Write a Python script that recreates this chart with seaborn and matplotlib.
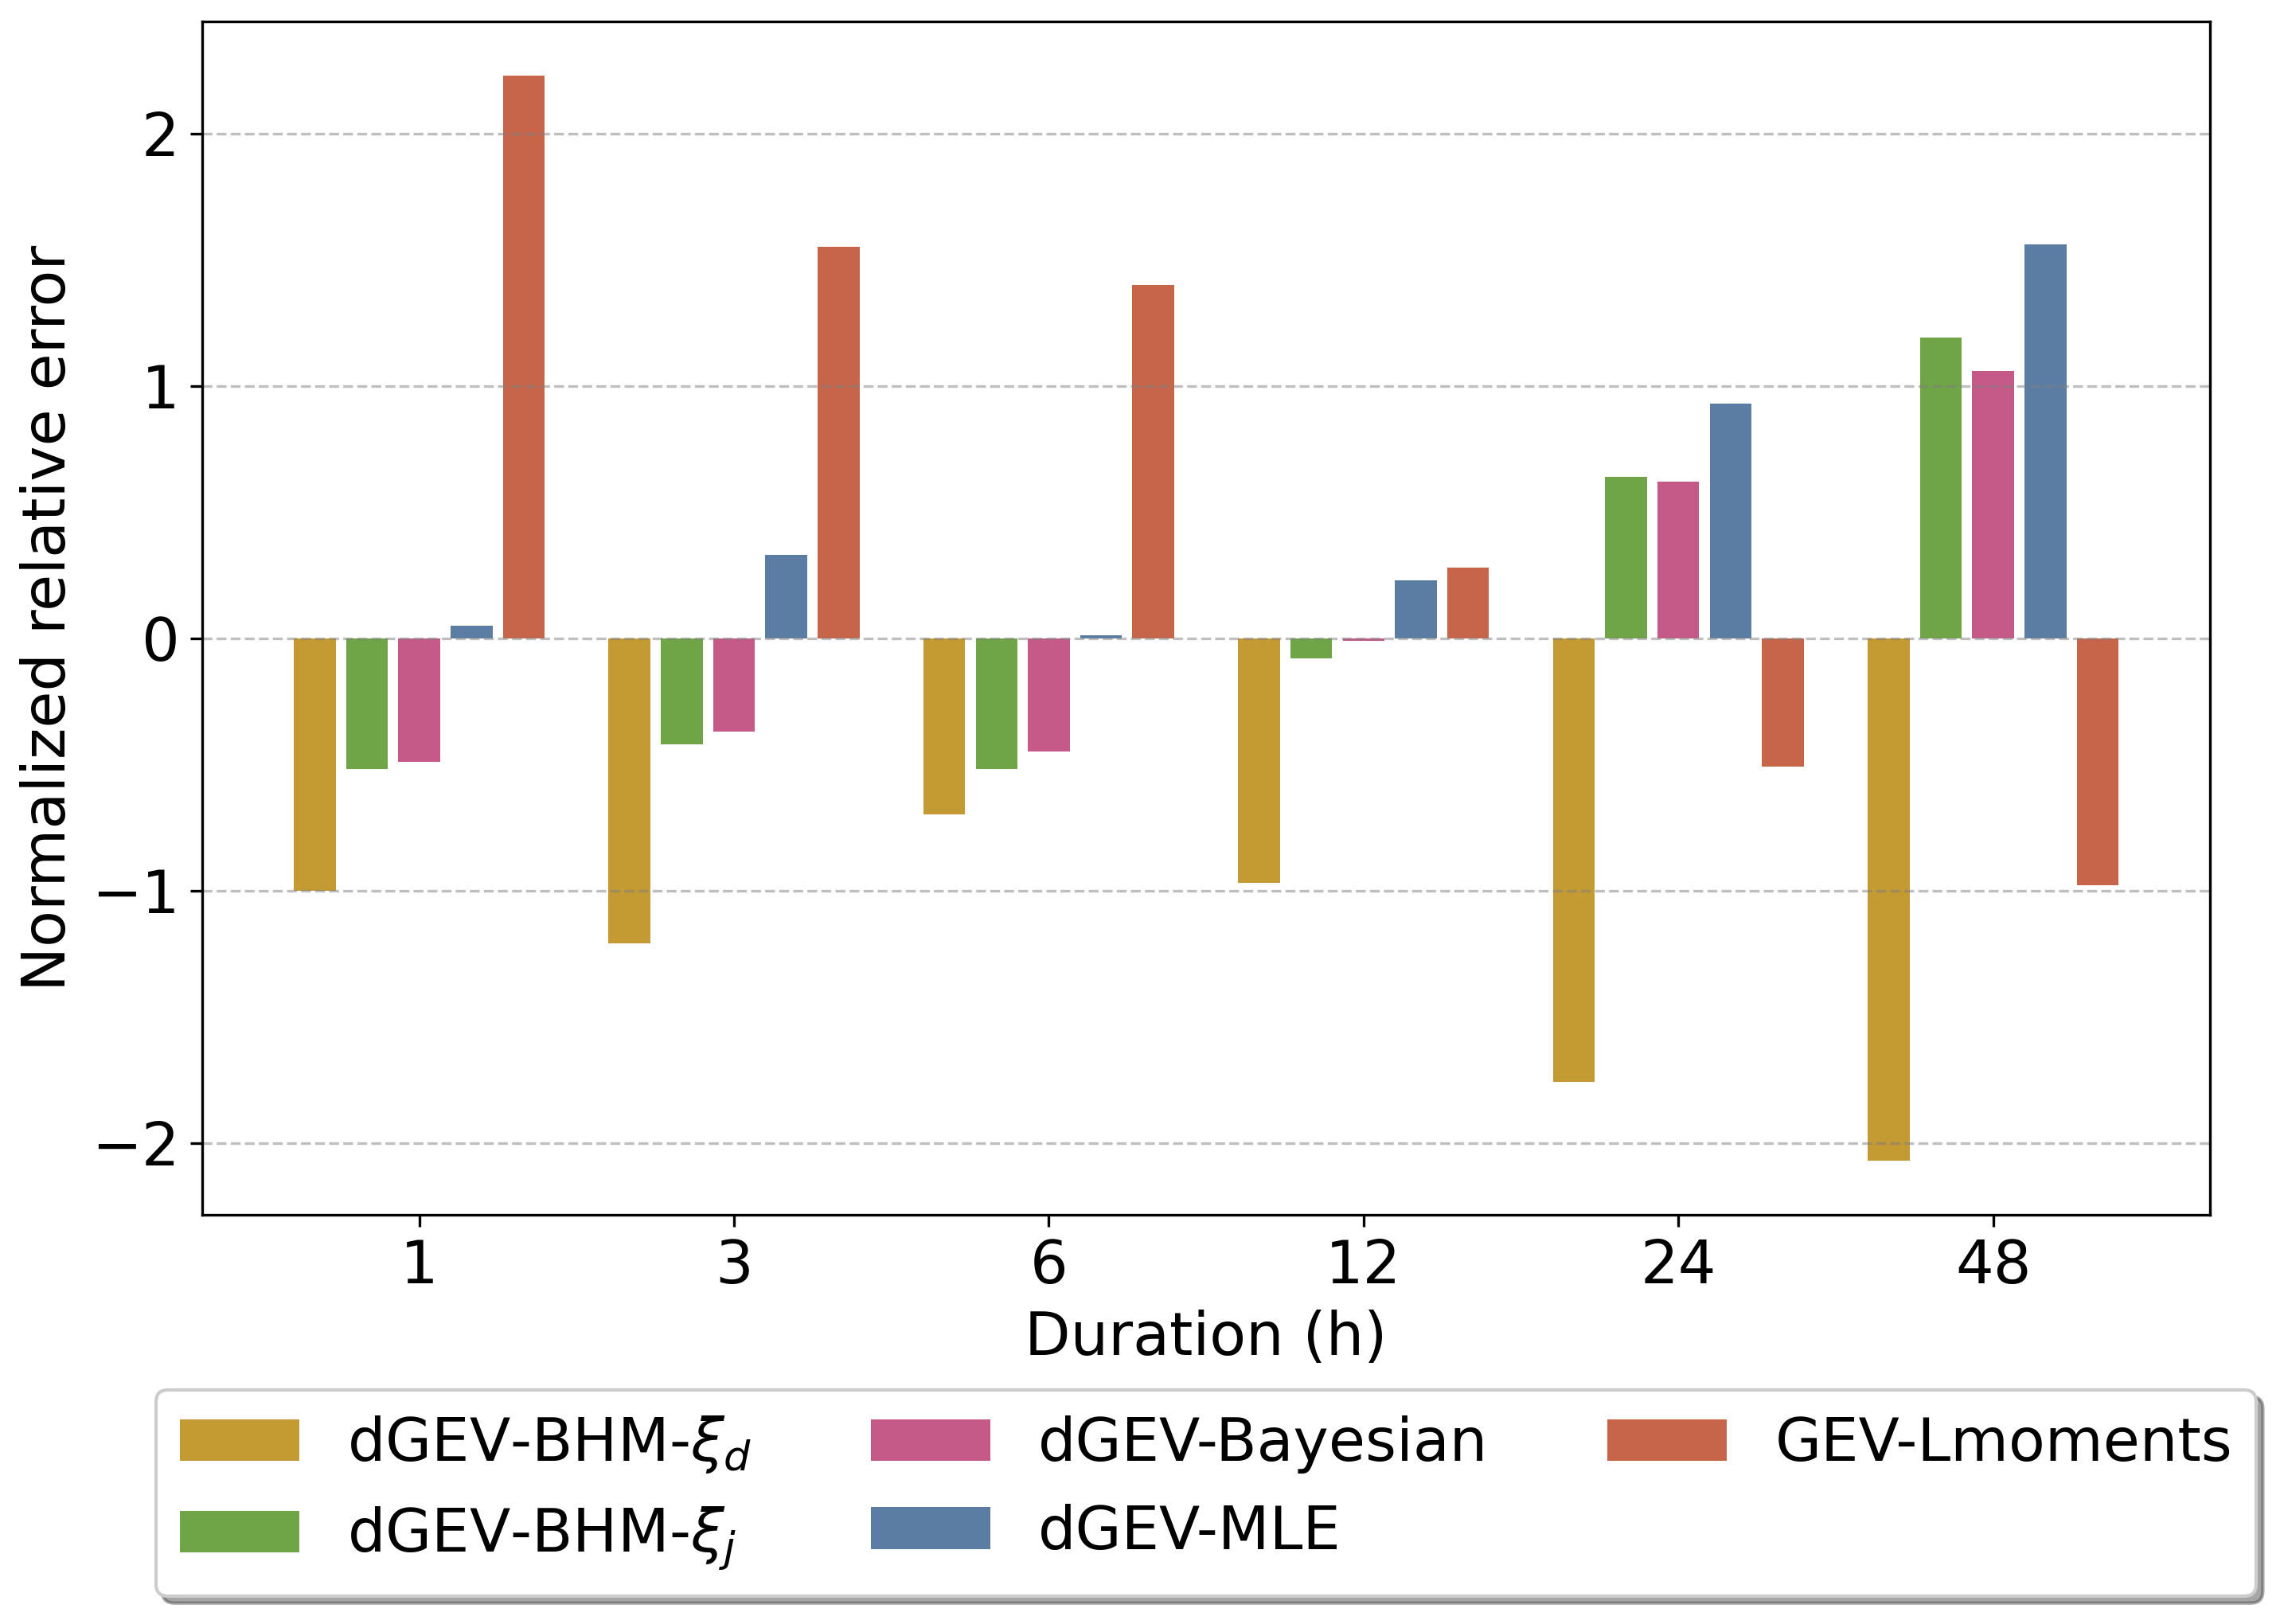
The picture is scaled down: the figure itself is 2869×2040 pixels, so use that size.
import pandas as pd
import matplotlib
matplotlib.use("Agg")
import matplotlib.pyplot as plt
import seaborn as sns

# ---------- data ----------
durations = ["1", "3", "6", "12", "24", "48"]
methods = [r"dGEV-BHM-$\xi_d$", r"dGEV-BHM-$\xi_j$", "dGEV-Bayesian",
           "dGEV-MLE", "GEV-Lmoments"]

bhm_xi_d = [-1.00, -1.21, -0.70, -0.97, -1.76, -2.07]
bhm_xi_j = [-0.52, -0.42, -0.52, -0.08, 0.64, 1.19]
bayesian = [-0.49, -0.37, -0.45, -0.01, 0.62, 1.06]
mle = [0.05, 0.33, 0.01, 0.23, 0.93, 1.56]
lmoments = [2.23, 1.55, 1.40, 0.28, -0.51, -0.98]

colors = ["#c49a32", "#6fa447", "#c55a88", "#5b7da3", "#c6654a"]

# long format for seaborn
series = [bhm_xi_d, bhm_xi_j, bayesian, mle, lmoments]
rows = []
for m, vals in zip(methods, series):
    for d, v in zip(durations, vals):
        rows.append({"duration": d, "method": m, "error": v})
df = pd.DataFrame(rows)

# ---------- plot ----------
plt.rcParams["font.size"] = 18

fig, ax = plt.subplots(figsize=(2869 / 300, 2040 / 300), dpi=300)
fig.subplots_adjust(left=0.0887, right=0.9675, top=0.987, bottom=0.252)

sns.barplot(
    data=df, x="duration", y="error", hue="method",
    order=durations, hue_order=methods,
    palette=dict(zip(methods, colors)),
    width=0.83, gap=0.2, saturation=1, errorbar=None, ax=ax
)

# let matplotlib pick the x limits like a plain bar chart
ax.autoscale(enable=True, axis="x")
ax.margins(x=0.05)
ax.autoscale_view()

ax.yaxis.grid(True, linestyle="--", color="gray", alpha=0.5)
ax.set_yticks([-2, -1, 0, 1, 2])
ax.set_yticklabels(["\u22122", "\u22121", "0", "1", "2"])

ax.set_xlabel("Duration (h)", fontsize=18)
ax.set_ylabel("Normalized relative error", fontsize=18)
ax.tick_params(labelsize=18)

# legend below the axes, centred on them
sns.move_legend(
    ax, "upper center", bbox_to_anchor=(0.528, 0.1441),
    bbox_transform=fig.transFigure, borderaxespad=0, ncol=3,
    fancybox=True, shadow=True, fontsize=18, title=None, frameon=True
)

fig.savefig("out.png", dpi=300)
